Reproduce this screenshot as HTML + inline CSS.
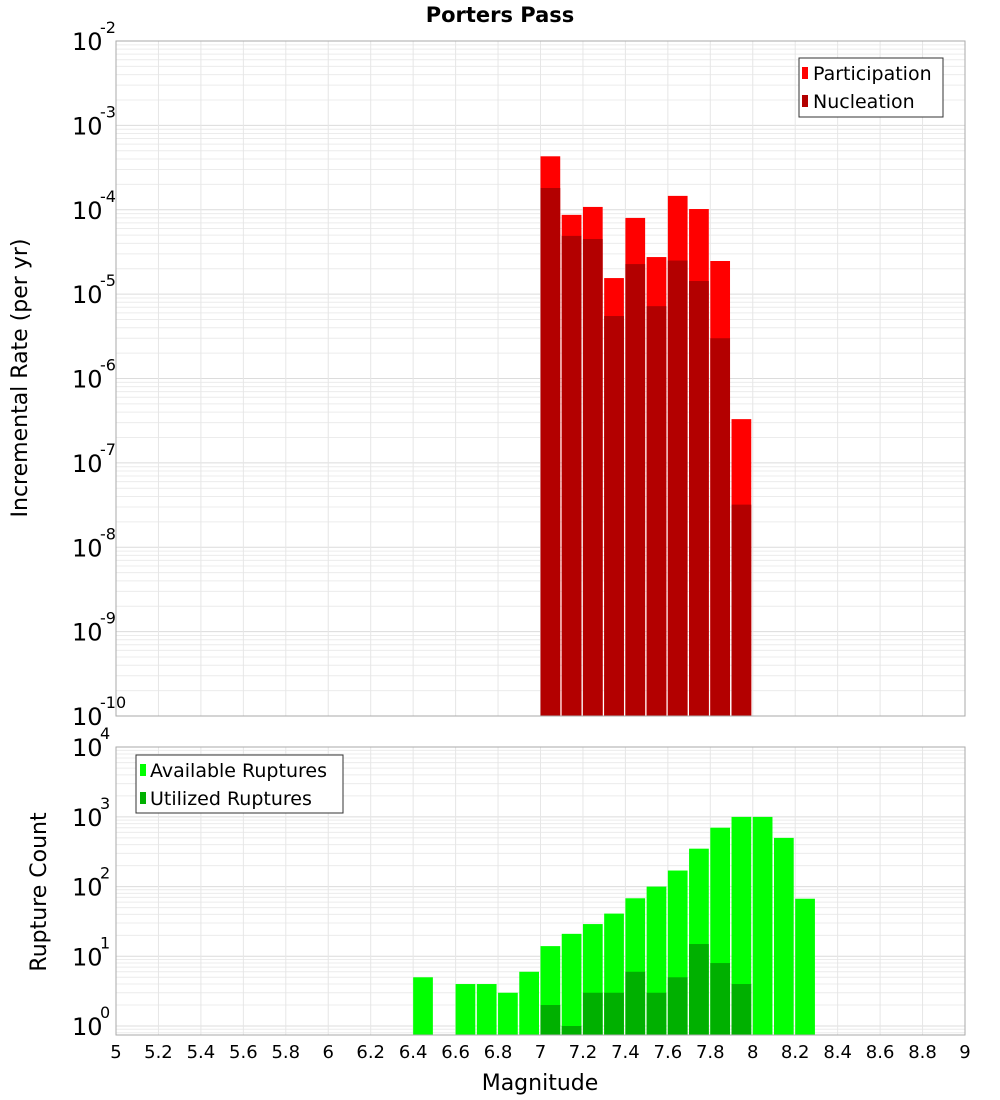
<!DOCTYPE html>
<html><head><meta charset="utf-8"><style>
body{margin:0;background:#fff;}
svg{display:block;font-family:"DejaVu Sans","Liberation Sans",sans-serif;}
</style></head><body>
<svg id="chart" width="1000" height="1100" viewBox="0 0 1000 1100" xmlns="http://www.w3.org/2000/svg">
<rect width="1000" height="1100" fill="#fff"/>
<text x="500" y="22" text-anchor="middle" font-size="21" font-weight="bold">Porters Pass</text>
<g id="topg"></g><g id="botg"></g>
<text transform="translate(27,378) rotate(-90)" text-anchor="middle" font-size="22">Incremental Rate (per yr)</text>
<text transform="translate(46,892) rotate(-90)" text-anchor="middle" font-size="22">Rupture Count</text>
<text x="540" y="1090" text-anchor="middle" font-size="22">Magnitude</text>
<g>
<rect x="799" y="58" width="144" height="59" fill="#fff" stroke="#333" stroke-width="1"/>
<rect x="802" y="67" width="6" height="12" fill="#ff0000"/>
<text x="813" y="80" font-size="19">Participation</text>
<rect x="802" y="95" width="6" height="12" fill="#b30000"/>
<text x="813" y="108" font-size="19">Nucleation</text>
</g>
<g>
<rect x="136" y="755" width="207" height="58" fill="#fff" stroke="#333" stroke-width="1"/>
<rect x="140" y="764" width="6" height="12" fill="#00ff00"/>
<text x="150" y="777" font-size="19">Available Ruptures</text>
<rect x="140" y="792" width="6" height="12" fill="#00b000"/>
<text x="150" y="805" font-size="19">Utilized Ruptures</text>
</g>
</svg>
<script>
const rateMags=[7.0,7.1,7.2,7.3,7.4,7.5,7.6,7.7,7.8,7.9];
const participation=[4.3e-4,8.7e-5,1.08e-4,1.55e-5,8.0e-5,2.75e-5,1.46e-4,1.02e-4,2.47e-5,3.3e-7];
const nucleation=[1.81e-4,4.9e-5,4.5e-5,5.5e-6,2.27e-5,7.2e-6,2.5e-5,1.43e-5,3.0e-6,3.2e-8];
const countMags=[6.4,6.6,6.7,6.8,6.9,7.0,7.1,7.2,7.3,7.4,7.5,7.6,7.7,7.8,7.9,8.0,8.1,8.2];
const available=[5,4,4,3,6,14,21,29,41,68,100,170,350,700,1000,1000,500,67];
const utilizedMags=[7.0,7.1,7.2,7.3,7.4,7.5,7.6,7.7,7.8,7.9];
const utilized=[2,1,3,3,6,3,5,15,8,4];
const xTicks=["5","5.2","5.4","5.6","5.8","6","6.2","6.4","6.6","6.8","7","7.2","7.4","7.6","7.8","8","8.2","8.4","8.6","8.8","9"];
const topExps=[-2,-3,-4,-5,-6,-7,-8,-9,-10];
const botExps=[4,3,2,1,0];

const NS="http://www.w3.org/2000/svg";
const X0=116,X1=965;
const xs=m=>X0+(m-5)/4*(X1-X0);
const T0=41,T1=716, yTop=v=>T0+(-2-Math.log10(v))*(T1-T0)/8;
const B0=747,B1=1035, BPD=69.7, yBot=v=>1026-Math.log10(v)*BPD;
function mk(parent,tag,attrs){const e=document.createElementNS(NS,tag);for(const k in attrs)e.setAttribute(k,attrs[k]);parent.appendChild(e);return e;}
function grid(g,yTopPx,yBotPx,yf,eLo,eHi){
  for(let e=eLo;e<=eHi;e++)for(let k=1;k<10;k++){const y=yf(k*Math.pow(10,e));if(y>=yTopPx&&y<=yBotPx)mk(g,'line',{x1:X0,x2:X1,y1:y,y2:y,stroke:k==1?'#dcdcdc':'#ececec','stroke-width':1});}
  xTicks.forEach(t=>{const xx=xs(+t);mk(g,'line',{x1:xx,x2:xx,y1:yTopPx,y2:yBotPx,stroke:'#e6e6e6','stroke-width':1});});
}
const topG=document.getElementById('topg'),botG=document.getElementById('botg');
grid(topG,T0,T1,yTop,-10,-3);
grid(botG,B0,B1,yBot,-1,3);
const bw=xs(5.1)-xs(5)-1.5;
rateMags.forEach((m,i)=>{
 const p=mk(topG,'rect',{x:xs(m),y:yTop(participation[i]),width:bw,height:T1-yTop(participation[i]),fill:'#ff0000'});
 
 
 const n=mk(topG,'rect',{x:xs(m),y:yTop(nucleation[i]),width:bw,height:T1-yTop(nucleation[i]),fill:'#b30000'});
 
 
});
countMags.forEach((m,i)=>{
 const yy=yBot(available[i]);
 const r=mk(botG,'rect',{x:xs(m),y:yy,width:bw,height:B1-yy,fill:'#00ff00'});
 
 
});
utilizedMags.forEach((m,i)=>{
 const yy=yBot(utilized[i]);
 const r=mk(botG,'rect',{x:xs(m),y:yy,width:bw,height:B1-yy,fill:'#00b000'});
 
 
});
mk(topG,'rect',{x:X0,y:T0,width:X1-X0,height:T1-T0,fill:'none',stroke:'#aaa'});
mk(botG,'rect',{x:X0,y:B0,width:X1-X0,height:B1-B0,fill:'none',stroke:'#aaa'});
function expLabel(g,y,e){
 const t=mk(g,'text',{x:72,y:y+9,'font-size':24});
 
 
 t.textContent='10';
 const s=mk(g,'text',{x:100,y:y-8,'font-size':16});
 
 
 s.textContent=String(e);
}
topExps.forEach(e=>expLabel(topG,yTop(Math.pow(10,e)),e));
botExps.forEach(e=>expLabel(botG,yBot(Math.pow(10,e)),e));
xTicks.forEach(t=>{
 const l=mk(botG,'text',{x:xs(+t),y:1058,'text-anchor':'middle','font-size':18});
 
 
 l.textContent=t;
});
</script>
</body></html>
